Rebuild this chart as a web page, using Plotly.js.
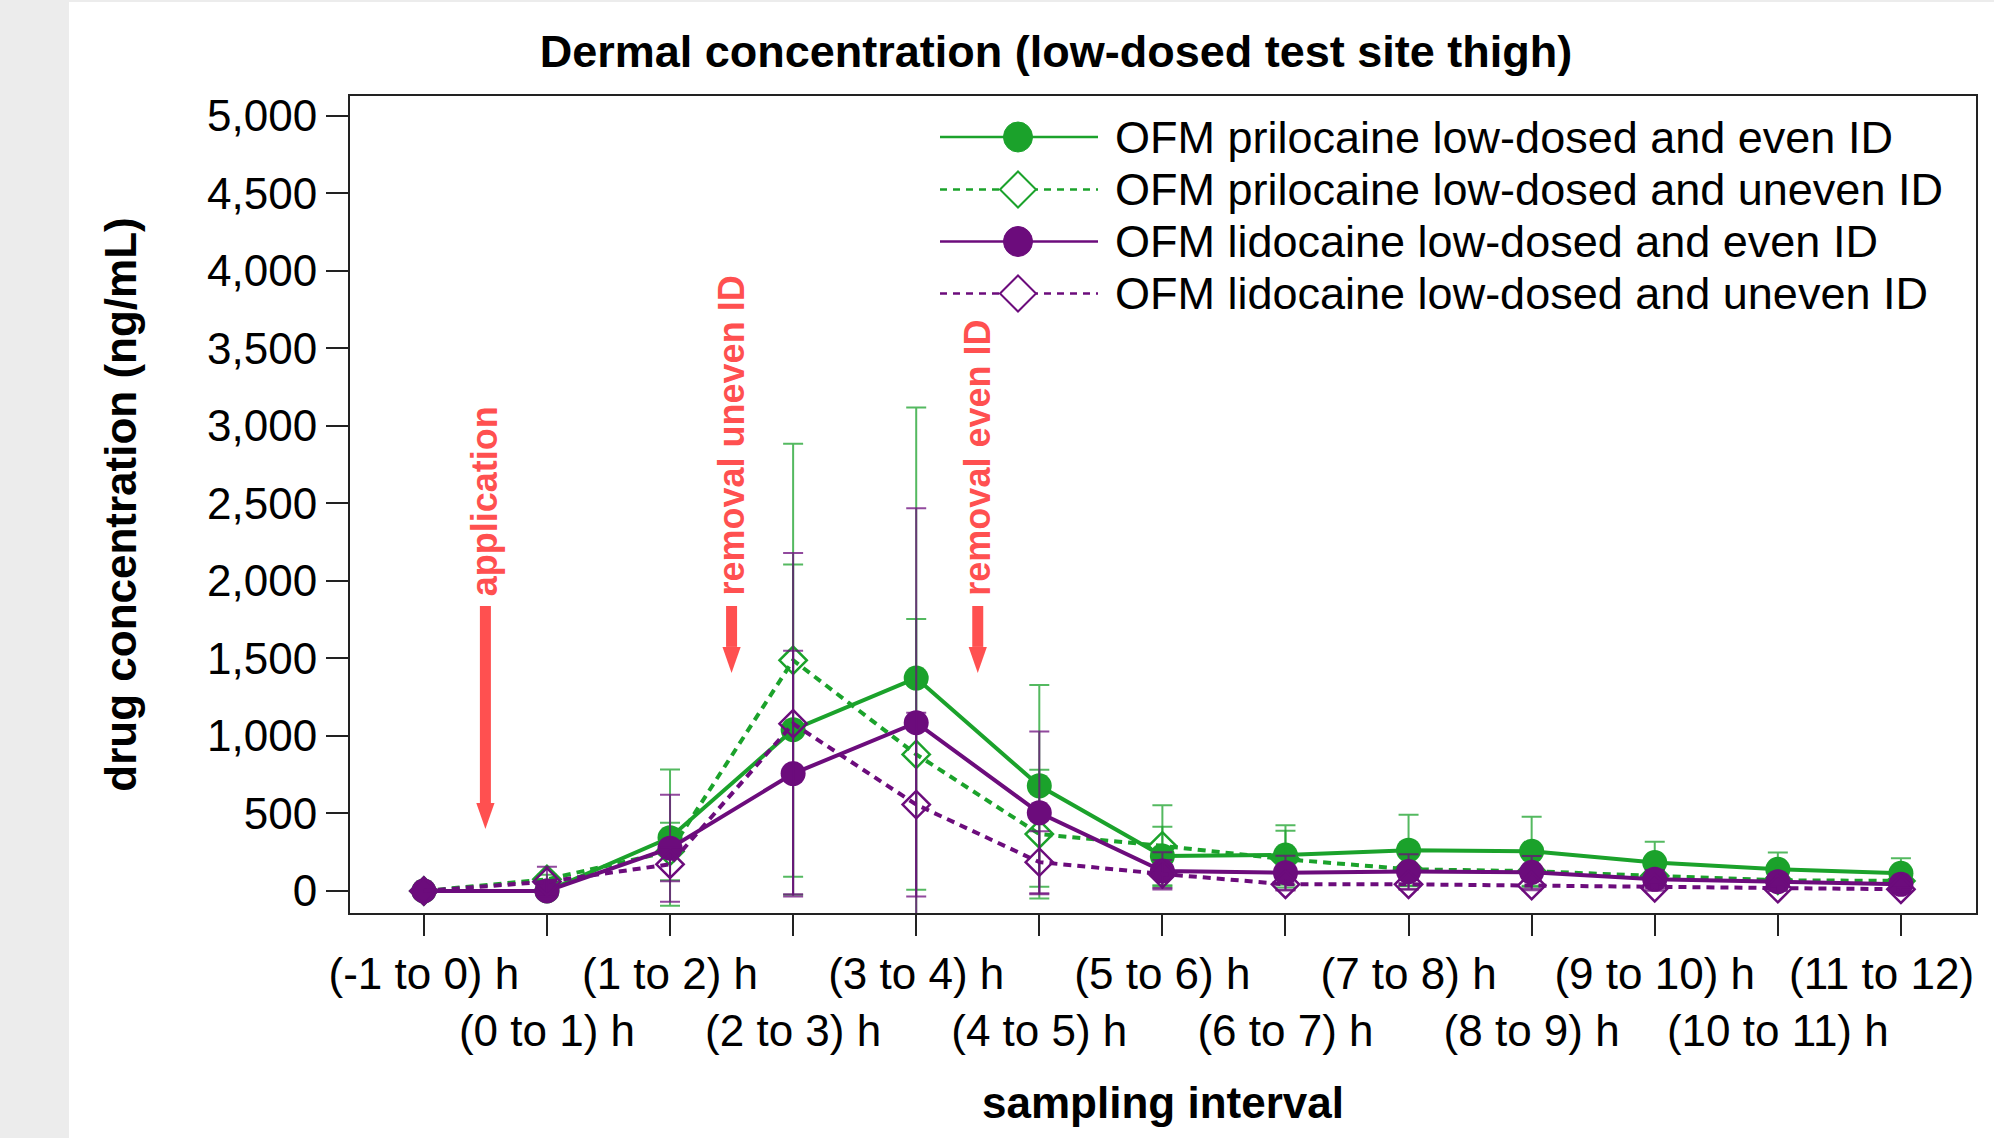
<!DOCTYPE html>
<html><head><meta charset="utf-8">
<script src="https://cdn.plot.ly/plotly-3.0.1.min.js"></script>
<style>
html,body{margin:0;padding:0;background:#ececec;width:1994px;height:1138px;overflow:hidden}
#chart{position:absolute;left:69px;top:2px;width:1925px;height:1136px;background:#fff}
</style></head><body><div id="chart"></div>
<script>
// ---- data ----
const categories = ["(-1 to 0) h","(0 to 1) h","(1 to 2) h","(2 to 3) h","(3 to 4) h","(4 to 5) h","(5 to 6) h","(6 to 7) h","(7 to 8) h","(8 to 9) h","(9 to 10) h","(10 to 11) h","(11 to 12) h"];
const seriesNames = ["OFM prilocaine low-dosed and even ID","OFM prilocaine low-dosed and uneven ID","OFM lidocaine low-dosed and even ID","OFM lidocaine low-dosed and uneven ID"];
const priloEven      = [0, 0, 344, 1040, 1373, 678, 226, 232, 263, 256, 183, 140, 114];
const priloEvenSD    = [0, 0, 440, 1065, 1745, 650, 189, 192, 228, 222, 134, 108, 97];
const priloUneven    = [0, 75, 255, 1488, 881, 367, 291, 205, 140, 128, 97, 69, 65];
const priloUnevenSD  = [0, 30, 185, 1396, 873, 415, 262, 183, 110, 100, 70, 55, 50];
const lidoEven       = [0, 0, 276, 757, 1085, 504, 129, 118, 125, 120, 75, 60, 43];
const lidoEvenSD     = [0, 0, 345, 793, 1383, 525, 120, 110, 112, 105, 60, 50, 35];
const lidoUneven     = [0, 60, 172, 1079, 557, 186, 110, 43, 43, 35, 21, 15, 11];
const lidoUnevenSD   = [0, 97, 110, 1100, 593, 200, 90, 40, 35, 30, 20, 15, 12];
const yTicks = [0, 500, 1000, 1500, 2000, 2500, 3000, 3500, 4000, 4500, 5000];
const eventLabels = ["application", "removal uneven ID", "removal even ID"];
const eventPositions = [0.5, 2.5, 4.5];

// ---- styles ----
const FONT = "Liberation Sans, Arial, sans-serif";
const GREEN = "#1ba22b", PURPLE = "#6c0c7c", RED = "#ff5050", AXIS = "#222222";
const GREEN_ERR = "rgba(27,162,43,0.75)", PURPLE_ERR = "rgba(108,12,124,0.75)";
const DASH = "8px,6px";

// plot-area pixel frame (page pixels) for placing legend / labels
const PX = {left: 350, right: 1976, top: 96, bottom: 913};
const px2x = X => (X - PX.left) / (PX.right - PX.left);
const px2y = Y => (PX.bottom - Y) / (PX.bottom - PX.top);

const seriesDefs = [
  {y: priloEven,   sd: priloEvenSD,   color: GREEN,  err: GREEN_ERR,  solid: true},
  {y: priloUneven, sd: priloUnevenSD, color: GREEN,  err: GREEN_ERR,  solid: false},
  {y: lidoEven,    sd: lidoEvenSD,    color: PURPLE, err: PURPLE_ERR, solid: true},
  {y: lidoUneven,  sd: lidoUnevenSD,  color: PURPLE, err: PURPLE_ERR, solid: false}
];

const data = seriesDefs.map((s, i) => ({
  type: "scatter", mode: "lines+markers", name: seriesNames[i], showlegend: false,
  x: categories, y: s.y,
  line: {color: s.color, width: 4, dash: s.solid ? "solid" : DASH},
  marker: s.solid ? {symbol: "circle", size: 25, color: s.color}
                  : {symbol: "diamond-open", size: 21, color: s.color, line: {color: s.color, width: 2.5}},
  error_y: {type: "data", array: s.sd, visible: true, color: s.err, thickness: 2, width: 10}
}));

const lastIdx = categories.length - 1;
const tickText = categories.map((c, i) => (i === lastIdx ? "" : (i % 2 === 1 ? "<br>" + c : c)));

const annotations = [];
const shapes = [];

// event annotations (rotated red text + arrows)
eventLabels.forEach((t, i) => {
  annotations.push({
    x: eventPositions[i], y: 1890, xref: "x", yref: "y",
    text: t, textangle: -90, showarrow: false,
    xanchor: "center", yanchor: "bottom",
    font: {family: FONT, size: 36, color: RED, weight: "bold"}
  });
  const xp = eventPositions[i];
  const base = i === 0 ? 568 : 1574, tip = i === 0 ? 400 : 1406;
  shapes.push({type: "line", xref: "x", yref: "y", x0: xp, x1: xp, y0: 1838, y1: base,
               line: {color: RED, width: 11}});
  shapes.push({type: "path", xref: "x", yref: "y",
               path: `M ${xp - 0.074} ${base} L ${xp + 0.074} ${base} L ${xp} ${tip} Z`,
               fillcolor: RED, line: {color: RED, width: 0}});
});

// last tick label (cut at the plot's right edge as in the original)
annotations.push({
  xref: "paper", yref: "paper", x: 1, y: px2y(974), xanchor: "right", yanchor: "middle",
  text: categories[lastIdx].replace(/ h$/, ""), showarrow: false,
  font: {family: FONT, size: 44, color: "#000"}
});

// custom legend
const legendRows = [137, 189.5, 241.5, 293.5];
seriesDefs.forEach((s, i) => {
  const yc = legendRows[i];
  shapes.push({type: "line", xref: "paper", yref: "paper", x0: px2x(940), x1: px2x(1098),
               y0: px2y(yc), y1: px2y(yc),
               line: {color: s.color, width: 2.5, dash: s.solid ? "solid" : "7px,6px"}});
  if (s.solid) {
    shapes.push({type: "circle", xref: "paper", yref: "paper",
                 x0: px2x(1018 - 14.5), x1: px2x(1018 + 14.5), y0: px2y(yc + 15), y1: px2y(yc - 15),
                 fillcolor: s.color, line: {color: s.color, width: 1}});
  } else {
    shapes.push({type: "path", xref: "paper", yref: "paper",
                 path: `M ${px2x(1000)} ${px2y(yc)} L ${px2x(1018)} ${px2y(yc - 18)} L ${px2x(1036)} ${px2y(yc)} L ${px2x(1018)} ${px2y(yc + 18)} Z`,
                 fillcolor: "#ffffff", line: {color: s.color, width: 2}});
  }
  annotations.push({xref: "paper", yref: "paper", x: px2x(1113), y: px2y(yc), xanchor: "left", yanchor: "middle",
                    text: seriesNames[i], showarrow: false,
                    font: {family: FONT, size: 45, color: "#000"}});
});

const layout = {
  width: 1925, height: 1136,
  margin: {l: 281, r: 18, t: 94, b: 225},
  paper_bgcolor: "#ffffff", plot_bgcolor: "#ffffff",
  font: {family: FONT, size: 44, color: "#000"},
  showlegend: false,
  title: {text: "Dermal concentration (low-dosed test site thigh)",
          font: {family: FONT, size: 45, weight: "bold", color: "#000"},
          xref: "container", x: 0.5127, xanchor: "center", yref: "container", y: 0.957, yanchor: "middle"},
  xaxis: {type: "category", range: [-0.6, 12.61], tickmode: "array", tickvals: categories, ticktext: tickText,
          tickangle: 0, ticks: "outside", ticklen: 21, tickwidth: 2, tickcolor: AXIS,
          showline: true, linecolor: AXIS, linewidth: 2, mirror: true, showgrid: false, zeroline: false,
          ticklabeloverflow: "allow", tickfont: {family: FONT, size: 44, color: "#000"},
          title: {text: "sampling interval", font: {family: FONT, size: 44, weight: "bold"}, standoff: 33}},
  yaxis: {range: [-142, 5127], tickmode: "array", tickvals: yTicks, tickformat: ",d",
          ticks: "outside", ticklen: 22, tickwidth: 2, tickcolor: AXIS,
          showline: true, linecolor: AXIS, linewidth: 2, mirror: true, showgrid: false, zeroline: false,
          tickfont: {family: FONT, size: 44, color: "#000"},
          title: {text: "drug concentration (ng/mL)", font: {family: FONT, size: 44, weight: "bold"}, standoff: 57}},
  annotations: annotations,
  shapes: shapes
};

Plotly.newPlot("chart", data, layout, {displayModeBar: false, staticPlot: true});
</script></body></html>
